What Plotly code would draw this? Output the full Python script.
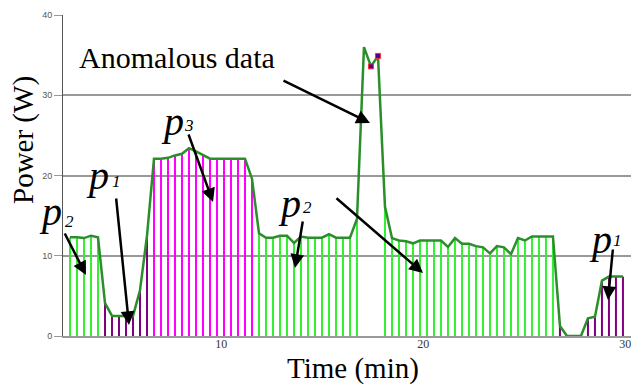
import plotly.graph_objects as go

# ---------------- data ----------------
T0 = 2.517      # first sample time (min)
DT = 0.3465     # sampling step (min)
power = [12.3, 12.3, 12.2, 12.5, 12.3,
         4.1, 2.5, 2.5, 2.5, 2.5, 5.7, 12.5,
         22.1, 22.1, 22.2, 22.5, 22.7, 23.4, 23.0, 22.5, 22.1, 22.1, 22.1, 22.1, 22.1, 22.1, 19.6,
         12.8, 12.25, 12.25, 12.5, 12.5, 11.6, 12.4, 12.25, 12.25, 12.25, 12.7, 12.25, 12.25, 12.25, 14.6,
         36.0, 33.6, 34.9,
         16.1, 12.2, 11.9, 11.8, 11.55, 11.9, 11.9, 11.9,
         11.9, 11.1, 12.2, 11.5, 11.5, 11.2, 11.05, 10.3, 11.2, 11.05, 10.2, 12.2, 11.9, 12.4, 12.4, 12.4, 12.4,
         1.25, 0, 0, 0, 2.2, 2.4, 6.9, 7.4, 7.4, 7.4]
state = (["p2"] * 5 + ["p1"] * 7 + ["p3"] * 15 + ["p2"] * 15 + ["anom"] * 3
         + ["p2"] * 25 + ["p1"] * 10)
marked = [43, 44]
time = [T0 + i * DT for i in range(len(power))]
x_ticks = [10, 20, 30]
y_ticks = [0, 10, 20, 30, 40]

state_colors = {"p1": "#800080", "p2": "#33f033", "p3": "#ff00ff"}
line_color = "#2a8f2a"

fig = go.Figure()

# stems per state
for s, col in state_colors.items():
    xs, ys = [], []
    for t, v, st in zip(time, power, state):
        if st == s:
            xs += [t, t, None]
            ys += [0, v, None]
    fig.add_trace(go.Scatter(x=xs, y=ys, mode="lines", line=dict(color=col, width=2),
                             showlegend=False, hoverinfo="skip"))

# connecting line
fig.add_trace(go.Scatter(x=time, y=power, mode="lines", line=dict(color=line_color, width=2.5),
                         showlegend=False))
# anomaly markers
fig.add_trace(go.Scatter(x=[time[i] for i in marked], y=[power[i] for i in marked], mode="markers",
                         marker=dict(symbol="square", size=5, color="#4b0099",
                                     line=dict(color="#ff3030", width=1)),
                         showlegend=False))

# ---------------- annotations (positions in page pixels) ----------------
L, T, W, H = 63, 15, 568, 321
def px(x):
    return (x - L) / W
def py(y):
    return (T + H - y) / H

arrows = [((64, 232), (86, 275)),
          ((116, 197), (129, 325)),
          ((188, 133), (213, 202)),
          ((282, 80), (370, 123)),
          ((335, 197), (423, 273)),
          ((303, 220), (295, 268)),
          ((613, 248), (608, 300))]
for (tail, head) in arrows:
    fig.add_annotation(x=px(head[0]), y=py(head[1]), ax=tail[0] - head[0], ay=tail[1] - head[1],
                       xref="paper", yref="paper", axref="pixel", ayref="pixel", text="",
                       showarrow=True, arrowhead=2, arrowsize=1.1, arrowwidth=2.5,
                       arrowcolor="black", standoff=0, startstandoff=0)

serif = "Liberation Serif"
def label(x, y, text, size, angle=0):
    fig.add_annotation(x=px(x), y=py(y), xref="paper", yref="paper", text=text,
                       xanchor="center", yanchor="middle", textangle=angle,
                       showarrow=False, font=dict(family=serif, size=size, color="black"))

p_labels = [((50, 211), (69, 221), "2"),
            ((97, 176), (116, 182), "1"),
            ((172, 121), (189, 125), "3"),
            ((289, 203), (307, 207), "2"),
            ((600, 239), (617, 240), "1")]
for (pp, sp, sub) in p_labels:
    label(pp[0], pp[1], "<i>p</i>", 40)
    label(sp[0], sp[1], "<i>" + sub + "</i>", 17)

label(177, 57, "Anomalous data", 30)
label(353, 369, "Time (min)", 29)
label(23, 140, "Power (W)", 29, -90)

X0, PXM = 2.17, 20.2
fig.update_layout(
    width=631, height=385, margin=dict(l=L, r=0, t=T, b=385 - T - H),
    plot_bgcolor="white", paper_bgcolor="white",
    xaxis=dict(range=[X0, X0 + W / PXM], tickvals=x_ticks, showgrid=False,
               showline=True, linecolor="#999999", linewidth=1.5, ticks="", zeroline=False,
               ticklabeloverflow="allow", ticklabelstandoff=-4,
               tickfont=dict(family=serif, size=12, color="#333333")),
    yaxis=dict(range=[0, 40], tickvals=y_ticks, showgrid=True,
               gridcolor="#999999", gridwidth=1.5, showline=True, linecolor="#555555",
               linewidth=1, ticks="outside", ticklen=8, tickcolor="#999999", zeroline=False,
               tickfont=dict(family="Liberation Sans", size=9, color="#555555")),
)

fig.write_html("out.html")
